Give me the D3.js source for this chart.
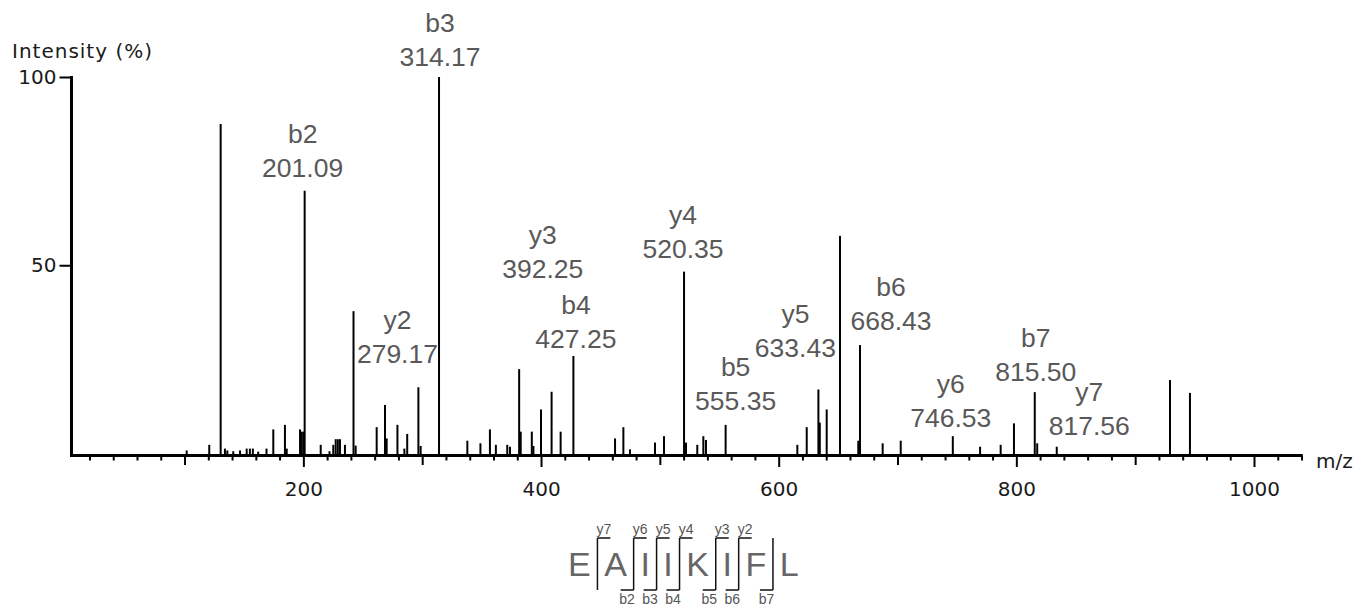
<!DOCTYPE html>
<html>
<head>
<meta charset="utf-8">
<script src="https://cdn.jsdelivr.net/npm/d3@7"></script>
<style>
  html, body { margin: 0; padding: 0; background: #ffffff; }
  svg { display: block; }
</style>
</head>
<body>
<svg id="chart" width="1359" height="609"></svg>
<script>
// ---- MS/MS peak list: m/z and relative intensity (%) ----
const peakMz = [
  101.8, 120.8, 130.4, 134.0, 136.0, 141.0, 146.7, 152.3, 155.0, 157.5,
  162.0, 169.0, 174.7, 184.5, 186.0, 197.2, 198.6, 200.0, 201.09, 214.6,
  222.0, 225.2, 227.2, 229.0, 230.8, 235.0, 242.2, 244.0, 261.7, 268.7,
  270.1, 279.17, 285.0, 287.4, 296.8, 298.7, 314.17, 338.0, 349.0, 357.0,
  362.0, 371.6, 373.9, 381.6, 382.9, 392.25, 393.6, 400.0, 408.9, 416.5,
  427.25, 462.3, 469.3, 474.9, 495.9, 503.5, 520.35, 522.0, 531.5, 536.6,
  538.8, 555.35, 615.7, 623.6, 633.43, 634.6, 640.4, 651.6, 667.0, 668.43,
  687.5, 702.7, 746.53, 769.5, 786.8, 798.0, 815.50, 817.56, 834.0, 929.3,
  946.1
];
const peakIntensity = [
  0.8, 2.3, 87.5, 1.3, 0.8, 0.6, 0.8, 1.3, 1.3, 1.3,
  0.5, 1.3, 6.4, 7.6, 1.3, 6.4, 5.8, 5.8, 69.8, 2.3,
  0.6, 2.3, 3.8, 3.8, 3.8, 2.3, 37.8, 2.1, 7.0, 12.9,
  4.0, 7.6, 1.3, 5.2, 17.6, 2.0, 100, 3.4, 2.7, 6.4,
  2.3, 2.3, 1.8, 22.4, 5.8, 5.8, 2.0, 11.7, 16.4, 5.8,
  25.9, 4.0, 7.0, 1.1, 2.9, 4.6, 48.3, 2.9, 2.3, 4.6,
  3.6, 7.6, 2.3, 7.0, 17.0, 8.2, 11.7, 57.8, 3.4, 28.8,
  2.7, 3.4, 4.6, 1.8, 2.3, 8.0, 16.3, 2.7, 1.8, 19.5,
  16.1
];

// ---- annotated fragment ions ----
const ionNames = ["b2", "y2", "b3", "y3", "b4", "y4", "b5", "y5", "b6", "y6", "b7", "y7"];
const ionMz = [201.09, 279.17, 314.17, 392.25, 427.25, 520.35, 555.35, 633.43, 668.43, 746.53, 815.50, 817.56];

// ---- peptide sequence and fragment coverage per cleavage site ----
const residues = ["E", "A", "I", "I", "K", "I", "F", "L"];
const siteB = ["", "b2", "b3", "b4", "b5", "b6", "b7"];
const siteY = ["y7", "y6", "y5", "y4", "y3", "y2", ""];

// ---- axis ticks ----
const yTickValues = [50, 100];
const xMajorTicks = [200, 400, 600, 800, 1000];
const xMidTicks = [100, 300, 500, 700, 900];
const xMinorTicks = d3.range(20, 1041, 20).filter(v => v % 100 !== 0);

// ---- label placement (horizontal shift and number baseline, px) ----
const labelPlacement = {
  b2: [-2, 177], b3: [1, 66], y2: [0, 363], y3: [11, 278], b4: [2.5, 348],
  y4: [-1, 258], b5: [10, 410], y5: [-23, 357], b6: [31, 330], y6: [-2, 427],
  b7: [1, 381], y7: [52, 435]
};

const svg = d3.select("#chart");
const axisFont = "'DejaVu Sans', Verdana, sans-serif";
const labelFont = "'Liberation Sans', Arial, Helvetica, sans-serif";

const x = d3.scaleLinear().domain([0, 1041]).range([65.7, 65.7 + 1041 * 1.1883]);
const y = d3.scaleLinear().domain([0, 100]).range([453.5, 77]);
const baseY = 455.5;
const axisLeftX = 71.5;

// ---- spectrum sticks ----
const peaks = peakMz.map((m, i) => ({ mz: m, intensity: peakIntensity[i] }));
svg.append("g")
  .selectAll("line")
  .data(peaks)
  .join("line")
  .attr("x1", d => x(d.mz)).attr("x2", d => x(d.mz))
  .attr("y1", baseY).attr("y2", d => y(d.intensity))
  .attr("stroke", "#000").attr("stroke-width", 2);

// ---- x axis: three tick levels ----
function xTicks(values, size, labelled) {
  const ax = d3.axisBottom(x).tickValues(values).tickSize(size)
    .tickPadding(15).tickFormat(labelled ? d3.format("d") : () => "");
  const g = svg.append("g").attr("transform", `translate(0,${baseY})`).call(ax);
  g.select(".domain").remove();
  g.selectAll(".tick line").attr("stroke", "#000").attr("stroke-width", 2);
  g.selectAll(".tick text").attr("font-family", axisFont).attr("font-size", 20)
    .attr("fill", "#1a1a1a");
  return g;
}
xTicks(xMinorTicks, 5, false);
xTicks(xMidTicks, 9.5, false);
xTicks(xMajorTicks, 11.5, true);

svg.append("line")
  .attr("x1", axisLeftX - 1.5).attr("x2", x(1041))
  .attr("y1", baseY).attr("y2", baseY)
  .attr("stroke", "#000").attr("stroke-width", 3);

// ---- y axis ----
const yAx = d3.axisLeft(y).tickValues(yTickValues).tickSize(12).tickPadding(3);
const yg = svg.append("g").attr("transform", `translate(${axisLeftX},0)`).call(yAx);
yg.select(".domain").remove();
yg.selectAll(".tick line").attr("stroke", "#000").attr("stroke-width", 2);
yg.selectAll(".tick text").attr("font-family", axisFont).attr("font-size", 20)
  .attr("fill", "#1a1a1a");
svg.append("line")
  .attr("x1", axisLeftX).attr("x2", axisLeftX)
  .attr("y1", y(100) - 1).attr("y2", baseY + 1.5)
  .attr("stroke", "#000").attr("stroke-width", 3);

// ---- axis titles ----
svg.append("text").attr("x", 12).attr("y", 58)
  .attr("font-family", axisFont).attr("font-size", 20).attr("letter-spacing", 1)
  .attr("fill", "#1a1a1a").text("Intensity (%)");
svg.append("text").attr("x", 1316).attr("y", 468)
  .attr("font-family", axisFont).attr("font-size", 20)
  .attr("fill", "#1a1a1a").text("m/z");

// ---- ion annotations ----
const ions = ionNames.map((n, i) => ({ name: n, mz: ionMz[i] }));
const ionG = svg.append("g")
  .attr("font-family", labelFont).attr("font-size", 26.5)
  .attr("fill", "#595959").attr("text-anchor", "middle");
ions.forEach(d => {
  const [dx, base] = labelPlacement[d.name];
  const cx = x(d.mz) + dx;
  ionG.append("text").attr("x", cx).attr("y", base - 34).text(d.name);
  ionG.append("text").attr("x", cx).attr("y", base).text(d3.format(".2f")(d.mz));
});

// ---- peptide sequence with fragmentation marks ----
const seqG = svg.append("g");
const seqBase = 576, gap = 13.5, hook = 13, markTop = 538, markBottom = 590;
let cursor = 568;
const spans = [];
residues.forEach(r => {
  const t = seqG.append("text").attr("x", cursor).attr("y", seqBase)
    .attr("font-family", labelFont).attr("font-size", 34).attr("fill", "#666")
    .text(r);
  const w = t.node().getComputedTextLength();
  spans.push([cursor, cursor + w]);
  cursor += w + gap;
});
const sites = d3.range(residues.length - 1).map(k => ({
  x: spans[k][1] + gap / 2, b: siteB[k], yIon: siteY[k]
}));
const markG = seqG.append("g").attr("stroke", "#111").attr("stroke-width", 1.5).attr("fill", "none");
const smallG = seqG.append("g").attr("font-family", labelFont).attr("font-size", 14)
  .attr("fill", "#555").attr("text-anchor", "middle");
sites.forEach(s => {
  let p = `M${s.x},${markBottom}V${markTop}`;
  markG.append("path").attr("d", p);
  if (s.yIon) {
    markG.append("path").attr("d", `M${s.x},${markTop}H${s.x + hook}`);
    smallG.append("text").attr("x", s.x + hook / 2).attr("y", markTop - 4).text(s.yIon);
  }
  if (s.b) {
    markG.append("path").attr("d", `M${s.x - hook},${markBottom}H${s.x}`);
    smallG.append("text").attr("x", s.x - hook / 2).attr("y", markBottom + 14).text(s.b);
  }
});
</script>
</body>
</html>
